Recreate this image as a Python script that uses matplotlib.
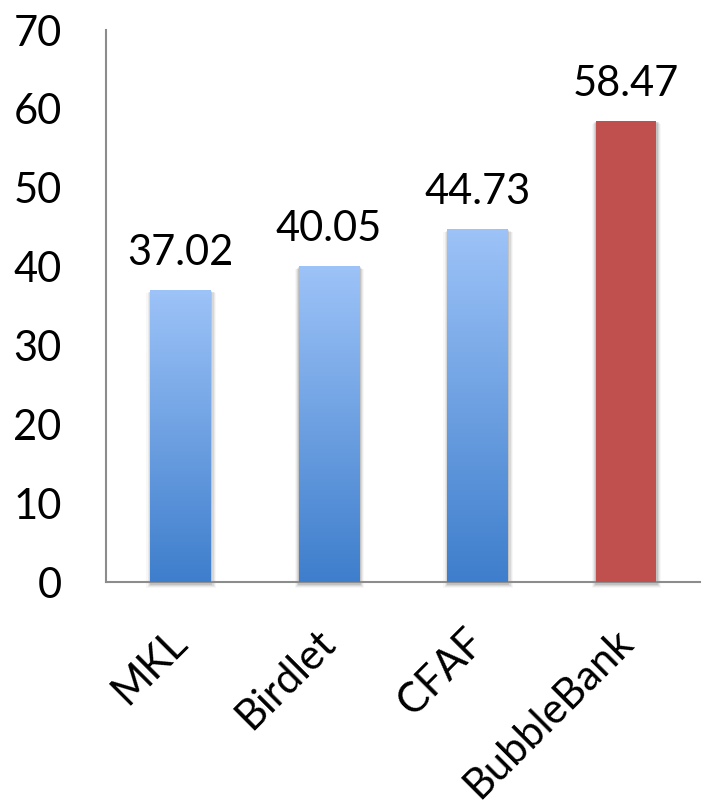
import numpy as np
import matplotlib
matplotlib.use("Agg")
import matplotlib.pyplot as plt
import matplotlib.transforms as mtransforms
from matplotlib.colors import LinearSegmentedColormap

categories = ["MKL", "Birdlet", "CFAF", "BubbleBank"]
values = [37.02, 40.05, 44.73, 58.47]
y_ticks = [0, 10, 20, 30, 40, 50, 60, 70]

plt.rcParams["font.family"] = ["Lato", "DejaVu Sans"]

fig = plt.figure(figsize=(7.13, 8.09), dpi=100)
ax = fig.add_axes([106 / 713, 227 / 809, 594 / 713, 552 / 809])

x = np.arange(len(categories))
width = 0.405
bars = ax.bar(x, values, width=width, color="none", edgecolor="none", zorder=3)

blue_grad = LinearSegmentedColormap.from_list("blue_grad", ["#3E7ECC", "#9DC3F8"])
grad = np.linspace(0, 1, 256).reshape(-1, 1)

for i, (patch, v) in enumerate(zip(bars, values)):
    x0 = patch.get_x()
    w = patch.get_width()
    # soft drop shadow
    for k, a in zip(range(4), [0.10, 0.07, 0.05, 0.03]):
        pad = 0.008 * (k + 1)
        ax.add_patch(plt.Rectangle((x0 - pad + 0.006, -0.4 - 0.1 * k), w + 2 * pad, v + 0.3,
                                   color="black", alpha=a, lw=0, zorder=2, clip_on=False))
    if i == len(values) - 1:
        patch.set_facecolor("#C0504D")
    else:
        im = ax.imshow(grad, cmap=blue_grad, extent=[x0, x0 + w, 0, v],
                       origin="lower", aspect="auto", zorder=3)
        im.set_clip_path(patch)
    ax.text(x[i], v + 2.3, f"{v:.2f}", ha="center", va="bottom", fontsize=30, color="black")

ax.set_xlim(-0.5, len(categories) - 0.5)
ax.set_ylim(0, 70)
ax.set_yticks(y_ticks)
ax.set_yticklabels([str(t) for t in y_ticks], fontsize=30)
ax.set_xticks(x)
ax.set_xticklabels(categories, fontsize=30, rotation=45, ha="right", va="baseline",
                   rotation_mode="anchor")
ax.tick_params(axis="both", length=0)
ax.tick_params(axis="y", pad=32)
ax.tick_params(axis="x", pad=45)

# nudge the rotated category labels slightly right of their ticks
shift = mtransforms.ScaledTranslation(9 / 100, 0, fig.dpi_scale_trans)
for lbl in ax.get_xticklabels():
    lbl.set_transform(lbl.get_transform() + shift)

for side in ["top", "right"]:
    ax.spines[side].set_visible(False)
for side in ["left", "bottom"]:
    ax.spines[side].set_color("#8C8C8C")
    ax.spines[side].set_linewidth(1.5)

fig.savefig("out.png", dpi=100)
